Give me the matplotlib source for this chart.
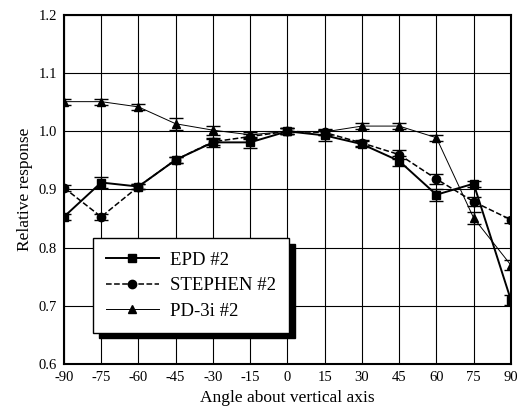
from matplotlib import pyplot as plt

# angles and responses
angles = [-90, -75, -60, -45, -30, -15, 0, 15, 30, 45, 60, 75, 90]
epd = [0.853, 0.912, 0.905, 0.951, 0.981, 0.981, 1.0, 0.993, 0.978, 0.949, 0.891, 0.910, 0.710]
epdErr = [0.005, 0.01, 0.005, 0.005, 0.008, 0.01, 0.005, 0.01, 0.005, 0.008, 0.01, 0.005, 0.008]
stephen = [0.903, 0.853, 0.905, 0.951, 0.982, 0.991, 1.0, 0.998, 0.980, 0.960, 0.918, 0.879, 0.848]
stephenErr = [0.005, 0.005, 0.005, 0.005, 0.005, 0.005, 0.005, 0.005, 0.005, 0.008, 0.008, 0.008, 0.005]
pd3i = [1.051, 1.051, 1.042, 1.013, 1.002, 0.994, 1.0, 0.999, 1.009, 1.009, 0.989, 0.851, 0.770]
pd3iErr = [0.005, 0.005, 0.005, 0.01, 0.008, 0.005, 0.005, 0.005, 0.005, 0.005, 0.005, 0.01, 0.008]

plt.rcParams['font.family'] = ['Liberation Serif', 'DejaVu Serif']
plt.rcParams['axes.unicode_minus'] = False

fig = plt.figure(figsize=(5.24, 4.16), dpi=100)
ax = fig.add_axes([0.122, 0.125, 0.853, 0.839])

e1 = ax.errorbar(angles, epd, yerr=epdErr, color='black', linestyle='-', linewidth=1.4,
                 marker='s', markersize=6, capsize=5, elinewidth=1, label='EPD #2', zorder=4)
e2 = ax.errorbar(angles, stephen, yerr=stephenErr, color='black', linestyle='--', linewidth=1.1,
                 marker='o', markersize=6, capsize=5, elinewidth=1, label='STEPHEN #2', zorder=4)
e3 = ax.errorbar(angles, pd3i, yerr=pd3iErr, color='black', linestyle='-', linewidth=0.7,
                 marker='^', markersize=6, capsize=5, elinewidth=1, label='PD-3i #2', zorder=4)

ax.set_xlim(-90, 90)
ax.set_ylim(0.6, 1.2)
ax.set_xticks(angles)
ax.set_yticks([0.6, 0.7, 0.8, 0.9, 1.0, 1.1, 1.2])
ax.set_yticklabels(['0.6', '0.7', '0.8', '0.9', '1.0', '1.1', '1.2'])
ax.grid(True, color='black', linewidth=0.8)
ax.tick_params(length=0, labelsize=10.5, pad=5)
for s in ax.spines.values():
    s.set_linewidth(1.5)

ax.set_xlabel("Angle about vertical axis", fontsize=12.5)
ax.set_ylabel("Relative response", fontsize=12.5)

leg = ax.legend(handles=[e1[0], e2[0], e3[0]], labels=['EPD #2', 'STEPHEN #2', 'PD-3i #2'],
                loc='lower left', bbox_to_anchor=(0.065, 0.089), borderaxespad=0, fontsize=13.5,
                fancybox=False, edgecolor='black', framealpha=1, handlelength=2.8,
                borderpad=0.7, labelspacing=0.45, handletextpad=0.6,
                shadow={'color': 'black', 'alpha': 1, 'ox': 4, 'oy': -4})
leg.get_frame().set_linewidth(1.0)
leg.set_zorder(10)

fig.savefig("out.png", dpi=100)
